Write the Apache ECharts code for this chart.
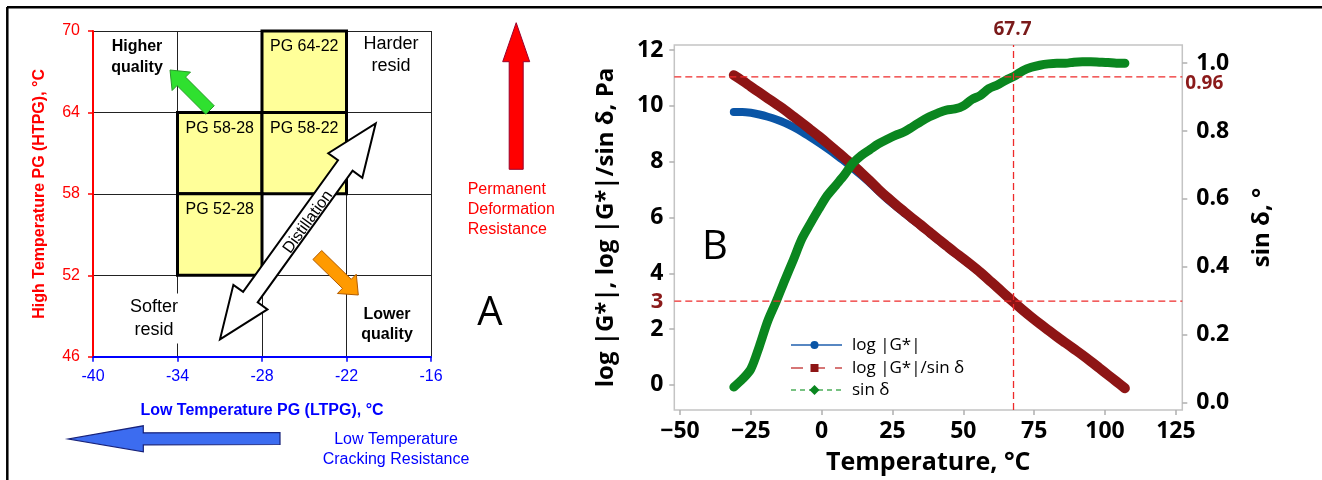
<!DOCTYPE html>
<html>
<head>
<meta charset="utf-8">
<script src="https://cdn.jsdelivr.net/npm/echarts@6/dist/echarts.min.js"></script>
<style>
html,body{margin:0;padding:0;background:#fff;}
#chart{width:1322px;height:480px;}
</style>
</head>
<body>
<div id="chart"></div>
<script>
// ---------- Panel A data ----------
const ltpgTicks = [-40, -34, -28, -22, -16];
const htpgTicks = [46, 52, 58, 64, 70];
const gradeNames = ['PG 64-22', 'PG 58-28', 'PG 58-22', 'PG 52-28'];
const gradeLtpgFrom = [-28, -34, -28, -34];
const gradeLtpgTo = [-22, -28, -22, -28];
const gradeHtpgFrom = [64, 58, 58, 52];
const gradeHtpgTo = [70, 64, 64, 58];

// ---------- Panel B data ----------
const temps = [-31,-28,-25,-22,-19,-16,-13,-10,-7,-4,-1,2,5,8,11,14,17,20,23,26,29,32,35,38,41,44,47,50,53,56,59,62,65,68,71,74,77,80,83,86,89,92,95,98,101,104,107];
const logG = [9.78,9.78,9.75,9.69,9.61,9.51,9.39,9.24,9.07,8.88,8.68,8.47,8.25,8.02,7.77,7.51,7.24,6.95,6.67,6.42,6.17,5.93,5.70,5.45,5.20,4.96,4.72,4.49,4.25,4.01,3.74,3.48,3.20,2.93,2.67,2.42,2.18,1.95,1.72,1.50,1.28,1.06,0.83,0.59,0.35,0.11,-0.12];
const logGSin = [11.10,10.90,10.69,10.48,10.27,10.06,9.85,9.62,9.39,9.15,8.91,8.66,8.40,8.14,7.88,7.60,7.31,7.01,6.73,6.47,6.22,5.97,5.73,5.48,5.23,4.99,4.75,4.52,4.28,4.03,3.76,3.49,3.21,2.94,2.68,2.43,2.19,1.96,1.73,1.51,1.29,1.07,0.84,0.60,0.36,0.12,-0.12];
const sinDelta = [0.045,0.068,0.098,0.165,0.24,0.298,0.36,0.42,0.482,0.527,0.57,0.61,0.64,0.67,0.705,0.728,0.745,0.762,0.775,0.787,0.797,0.812,0.828,0.842,0.853,0.862,0.865,0.874,0.893,0.905,0.925,0.936,0.950,0.962,0.978,0.988,0.994,0.998,1.0,1.0,1.003,1.004,1.004,1.003,1.002,1.0,1.0];
const tempTicks = [-50, -25, 0, 25, 50, 75, 100, 125];
const logTicks = [0, 2, 4, 6, 8, 10, 12];
const sinTicks = [0, 0.2, 0.4, 0.6, 0.8, 1.0];
const critTemp = 67.7;
const critLog = 3;
const critSin = 0.96;

// axis extents of panel B frame
const tMin = -52.0, tMax = 127.26;
const logMin = -0.9, logMax = 12.18;
const sinMin = -0.0226, sinMax = 1.0537;

const FA = 'Liberation Sans, Arial, sans-serif';
const FB = 'Open Sans, Noto Sans, sans-serif';

function pairs(xs, ys) { return xs.map((x, i) => [x, ys[i]]); }

function arrow(tail, tip, sw, hw, hl) {
  const dx = tip[0] - tail[0], dy = tip[1] - tail[1];
  const L = Math.hypot(dx, dy), ux = dx / L, uy = dy / L, nx = -uy, ny = ux;
  const bx = tip[0] - ux * hl, by = tip[1] - uy * hl;
  return [
    [tail[0] + nx * sw / 2, tail[1] + ny * sw / 2],
    [bx + nx * sw / 2, by + ny * sw / 2],
    [bx + nx * hw / 2, by + ny * hw / 2],
    [tip[0], tip[1]],
    [bx - nx * hw / 2, by - ny * hw / 2],
    [bx - nx * sw / 2, by - ny * sw / 2],
    [tail[0] - nx * sw / 2, tail[1] - ny * sw / 2]
  ];
}
function dblArrow(a, b, sw, hw, hl) {
  const dx = b[0] - a[0], dy = b[1] - a[1];
  const L = Math.hypot(dx, dy), ux = dx / L, uy = dy / L, nx = -uy, ny = ux;
  const ax = a[0] + ux * hl, ay = a[1] + uy * hl;
  const bx = b[0] - ux * hl, by = b[1] - uy * hl;
  return [
    a,
    [ax + nx * hw / 2, ay + ny * hw / 2],
    [ax + nx * sw / 2, ay + ny * sw / 2],
    [bx + nx * sw / 2, by + ny * sw / 2],
    [bx + nx * hw / 2, by + ny * hw / 2],
    b,
    [bx - nx * hw / 2, by - ny * hw / 2],
    [bx - nx * sw / 2, by - ny * sw / 2],
    [ax - nx * sw / 2, ay - ny * sw / 2],
    [ax - nx * hw / 2, ay - ny * hw / 2]
  ];
}

const chart = echarts.init(document.getElementById('chart'), null, {renderer: 'canvas'});

const boxData = gradeNames.map((n, i) => [gradeLtpgFrom[i], gradeLtpgTo[i], gradeHtpgFrom[i], gradeHtpgTo[i]]);

const legendY = [345, 368, 390];
const refStyle = {color: '#ee2a2a', type: [7, 4], width: 1.3};

const baseGraphic = [
  // outer frame lines
  {id: 'bt', type: 'line', z: 100, shape: {x1: 7, y1: 7.3, x2: 1322, y2: 7.3}, style: {stroke: '#000', lineWidth: 2.5}},
  {id: 'bl', type: 'line', z: 100, shape: {x1: 7.3, y1: 7, x2: 7.3, y2: 480}, style: {stroke: '#000', lineWidth: 2.5}},

  // Panel A texts
  {id: 't1', type: 'text', z: 100, x: 137, y: 57, style: {text: 'Higher\nquality', font: 'bold 16px ' + FA, fill: '#000', align: 'center', verticalAlign: 'middle', lineHeight: 21}},
  {id: 't2', type: 'text', z: 100, x: 391, y: 55, style: {text: 'Harder\nresid', font: '18px ' + FA, fill: '#000', align: 'center', verticalAlign: 'middle', lineHeight: 22}},
  {id: 't3', type: 'text', z: 100, x: 154, y: 318.5, style: {text: 'Softer\nresid', font: '18px ' + FA, fill: '#000', align: 'center', verticalAlign: 'middle', lineHeight: 23, backgroundColor: '#fff', padding: [2, 1, 2, 1]}},
  {id: 't4', type: 'text', z: 100, x: 387, y: 325, style: {text: 'Lower\nquality', font: 'bold 16px ' + FA, fill: '#000', align: 'center', verticalAlign: 'middle', lineHeight: 20}},

  // Panel A arrows
  {id: 'a1', type: 'polygon', z: 101, shape: {points: arrow([210, 110], [170, 70], 12, 26, 16)}, style: {fill: '#2fe02f', stroke: '#2a9a2a', lineWidth: 1}},
  {id: 'a2', type: 'polygon', z: 101, shape: {points: arrow([317.3, 255], [358.3, 295], 12.6, 27, 16)}, style: {fill: '#ff9a00', stroke: '#b35c00', lineWidth: 1}},
  {id: 'a3', type: 'polygon', z: 101, shape: {points: dblArrow([220, 339.3], [375.7, 123.3], 18, 42, 52)}, style: {fill: '#fff', stroke: '#000', lineWidth: 2}},
  {id: 't5', type: 'text', z: 102, x: 308, y: 222, rotation: 54.2 * Math.PI / 180, style: {text: 'Distillation', font: '16px ' + FA, fill: '#000', align: 'center', verticalAlign: 'middle'}},

  // Outside arrows and notes
  {id: 'a4', type: 'polygon', z: 101, shape: {points: arrow([516.2, 169.3], [516.2, 22.7], 14, 27, 39)}, style: {fill: '#ff0000', stroke: '#99002b', lineWidth: 1}},
  {id: 't6', type: 'text', z: 100, x: 467.7, y: 209.5, style: {text: 'Permanent\nDeformation\nResistance', font: '16px ' + FA, fill: '#ff0000', align: 'left', verticalAlign: 'middle', lineHeight: 20}},
  {id: 'a5', type: 'polygon', z: 101, shape: {points: arrow([280, 438.5], [68.3, 439], 12, 26, 75)}, style: {fill: '#3c6cf0', stroke: '#17227a', lineWidth: 1.2}},
  {id: 't7', type: 'text', z: 100, x: 396, y: 450, style: {text: 'Low Temperature\nCracking Resistance', font: '16px ' + FA, fill: '#0000ff', align: 'center', verticalAlign: 'middle', lineHeight: 20}},
  {id: 't8', type: 'text', z: 100, x: 490, y: 314, style: {text: 'A', font: '40px ' + FB, fill: '#000', align: 'center', verticalAlign: 'middle'}},

  // Panel B letter
  {id: 't9', type: 'text', z: 100, x: 715, y: 248, style: {text: 'B', font: '40px ' + FB, fill: '#000', align: 'center', verticalAlign: 'middle'}},

  // Panel B legend
  {id: 'l1', type: 'line', z: 100, shape: {x1: 791, y1: legendY[0], x2: 842, y2: legendY[0]}, style: {stroke: '#1f5fae', lineWidth: 1.3}},
  {id: 'l2', type: 'circle', z: 101, shape: {cx: 814.5, cy: legendY[0], r: 4}, style: {fill: '#0a55a6'}},
  {id: 'l3', type: 'text', z: 100, x: 852, y: legendY[0], style: {text: 'log |G*|', font: '17px ' + FB, fill: '#000', align: 'left', verticalAlign: 'middle'}},
  {id: 'l4', type: 'line', z: 100, shape: {x1: 791, y1: legendY[1], x2: 842, y2: legendY[1]}, style: {stroke: '#c94a4a', lineWidth: 1.3, lineDash: [12, 10]}},
  {id: 'l5', type: 'rect', z: 101, shape: {x: 810.5, y: legendY[1] - 4, width: 8, height: 8}, style: {fill: '#8e1515'}},
  {id: 'l6', type: 'text', z: 100, x: 852, y: legendY[1], style: {text: 'log |G*|/sin \u03b4', font: '17px ' + FB, fill: '#000', align: 'left', verticalAlign: 'middle'}},
  {id: 'l7', type: 'line', z: 100, shape: {x1: 791, y1: legendY[2], x2: 842, y2: legendY[2]}, style: {stroke: '#4cae5a', lineWidth: 1.3, lineDash: [5, 4]}},
  {id: 'l8', type: 'polygon', z: 101, shape: {points: [[814.5, legendY[2] - 5], [819.5, legendY[2]], [814.5, legendY[2] + 5], [809.5, legendY[2]]]}, style: {fill: '#0a861f'}},
  {id: 'l9', type: 'text', z: 100, x: 852, y: legendY[2], style: {text: 'sin \u03b4', font: '17px ' + FB, fill: '#000', align: 'left', verticalAlign: 'middle'}}
];

const option = {
  backgroundColor: '#fff',
  animation: false,
  grid: [
    {left: 93, top: 31, width: 338, height: 325.7, show: false},
    {left: 674.3, top: 45, right: 139.7, bottom: 68, show: true, borderColor: '#c4c4c4', borderWidth: 1.5, backgroundColor: 'transparent'}
  ],
  xAxis: [
    {
      gridIndex: 0, type: 'value', min: -40, max: -16, interval: 6,
      axisLine: {show: true, onZero: false, lineStyle: {color: '#0000ff', width: 2}},
      axisTick: {show: true, length: 5, lineStyle: {color: '#0000ff', width: 1.5}},
      axisLabel: {color: '#0000ff', fontFamily: FA, fontSize: 16, margin: 12},
      splitLine: {show: true, lineStyle: {color: '#222', width: 1}},
      name: 'Low Temperature PG (LTPG), °C', nameLocation: 'middle', nameGap: 46,
      nameTextStyle: {color: '#0000ff', fontFamily: FA, fontSize: 16, fontWeight: 'bold'}
    },
    {
      gridIndex: 1, type: 'value', min: tMin, max: tMax,
      axisLine: {show: false, onZero: false},
      axisTick: {show: true, length: 5, customValues: tempTicks, lineStyle: {color: '#b0b0b0', width: 1.5}},
      axisLabel: {customValues: tempTicks, color: '#000', fontFamily: FB, fontWeight: 'bold', fontSize: 23, margin: 10,
        formatter: v => (v < 0 ? '\u2212' + Math.abs(v) : String(v))},
      splitLine: {show: false},
      name: 'Temperature, °C', nameLocation: 'middle', nameGap: 40,
      nameTextStyle: {color: '#000', fontFamily: FB, fontSize: 25, fontWeight: 'bold'}
    }
  ],
  yAxis: [
    {
      gridIndex: 0, type: 'value', min: 46, max: 70, interval: 6,
      axisLine: {show: true, onZero: false, lineStyle: {color: '#ff0000', width: 2}},
      axisTick: {show: true, length: 5, lineStyle: {color: '#ff0000', width: 1.5}},
      axisLabel: {color: '#ff0000', fontFamily: FA, fontSize: 16, margin: 13},
      splitLine: {show: true, lineStyle: {color: '#222', width: 1}},
      name: 'High Temperature PG (HTPG), °C', nameLocation: 'middle', nameGap: 45, nameRotate: 90,
      nameTextStyle: {color: '#ff0000', fontFamily: FA, fontSize: 16, fontWeight: 'bold'}
    },
    {
      gridIndex: 1, type: 'value', min: logMin, max: logMax,
      axisLine: {show: false, onZero: false},
      axisTick: {show: true, length: 5, customValues: logTicks, lineStyle: {color: '#b0b0b0', width: 1.5}},
      axisLabel: {customValues: logTicks, color: '#000', fontFamily: FB, fontWeight: 'bold', fontSize: 23, margin: 11, padding: [7, 0, 0, 0]},
      splitLine: {show: false},
      name: 'log |G*|, log |G*|/sin \u03b4, Pa', nameLocation: 'middle', nameGap: 56, nameRotate: 90,
      nameTextStyle: {color: '#000', fontFamily: FB, fontSize: 24, fontWeight: 'bold'}
    },
    {
      gridIndex: 1, type: 'value', position: 'right', min: sinMin, max: sinMax,
      axisLine: {show: false, onZero: false},
      axisTick: {show: true, length: 5, customValues: sinTicks, lineStyle: {color: '#b0b0b0', width: 1.5}},
      axisLabel: {customValues: sinTicks, color: '#000', fontFamily: FB, fontWeight: 'bold', fontSize: 23, margin: 14, padding: [7, 0, 0, 0],
        formatter: v => v.toFixed(1)},
      splitLine: {show: false},
      name: 'sin \u03b4, °', nameLocation: 'middle', nameGap: 68, nameRotate: 90,
      nameTextStyle: {color: '#000', fontFamily: FB, fontSize: 24, fontWeight: 'bold'}
    }
  ],
  series: [
    {
      type: 'custom', xAxisIndex: 0, yAxisIndex: 0, z: 3,
      data: boxData,
      encode: {x: [0, 1], y: [2, 3]},
      renderItem: function (params, api) {
        const p0 = api.coord([api.value(0), api.value(3)]);
        const p1 = api.coord([api.value(1), api.value(2)]);
        return {
          type: 'group',
          children: [
            {type: 'rect', shape: {x: p0[0], y: p0[1], width: p1[0] - p0[0], height: p1[1] - p0[1]},
              style: {fill: '#ffff99', stroke: '#000', lineWidth: 3}},
            {type: 'text', x: (p0[0] + p1[0]) / 2, y: p0[1] + 16,
              style: {text: gradeNames[params.dataIndex], font: '16px ' + FA, fill: '#000', align: 'center', verticalAlign: 'middle'}}
          ]
        };
      }
    },
    {
      name: 'log |G*|', type: 'line', xAxisIndex: 1, yAxisIndex: 1, z: 3,
      data: pairs(temps, logG), symbol: 'none', smooth: 0.3,
      lineStyle: {color: '#0a55a6', width: 8, cap: 'round', join: 'round'}
    },
    {
      name: 'log |G*|/sin \u03b4', type: 'line', xAxisIndex: 1, yAxisIndex: 1, z: 4,
      data: pairs(temps, logGSin), symbol: 'none', smooth: 0.3,
      lineStyle: {color: '#8e1515', width: 10, cap: 'round', join: 'round'}
    },
    {
      name: 'sin \u03b4', type: 'line', xAxisIndex: 1, yAxisIndex: 2, z: 5,
      data: pairs(temps, sinDelta), symbol: 'none', smooth: 0.3,
      lineStyle: {color: '#0a861f', width: 9, cap: 'round', join: 'round'}
    },
    // reference lines
    {type: 'line', xAxisIndex: 1, yAxisIndex: 1, z: 6, silent: true, symbol: 'none', color: '#ee2a2a',
      data: [[tMin, critLog], [tMax, critLog]], lineStyle: refStyle},
    {type: 'line', xAxisIndex: 1, yAxisIndex: 1, z: 6, silent: true, symbol: 'none', color: '#ee2a2a',
      data: [[critTemp, logMin], [critTemp, logMax]], lineStyle: refStyle},
    {type: 'line', xAxisIndex: 1, yAxisIndex: 2, z: 6, silent: true, symbol: 'none', color: '#ee2a2a',
      data: [[tMin, critSin], [tMax, critSin]], lineStyle: refStyle}
  ],
  graphic: baseGraphic
};

chart.setOption(option);

// labels of reference values, anchored through the axes
const pLog = chart.convertToPixel({xAxisIndex: 1, yAxisIndex: 1}, [tMin, critLog]);
const pTemp = chart.convertToPixel({xAxisIndex: 1, yAxisIndex: 1}, [critTemp, logMax]);
const pSin = chart.convertToPixel({xAxisIndex: 1, yAxisIndex: 2}, [tMax, critSin]);
chart.setOption({
  graphic: baseGraphic.concat([
    {id: 'r1', type: 'text', z: 100, x: pLog[0] - 11, y: pLog[1] + 1, style: {text: String(critLog), font: 'bold 22px ' + FB, fill: '#8b1a1a', align: 'right', verticalAlign: 'middle'}},
    {id: 'r2', type: 'text', z: 100, x: pTemp[0] - 1, y: pTemp[1] - 15, style: {text: String(critTemp), font: 'bold 19px ' + FB, fill: '#7a1a1a', align: 'center', verticalAlign: 'middle'}},
    {id: 'r3', type: 'text', z: 100, x: pSin[0] + 3, y: pSin[1] + 7, style: {text: critSin.toFixed(2), font: 'bold 19px ' + FB, fill: '#8b1a1a', align: 'left', verticalAlign: 'middle'}}
  ])
});
</script>
</body>
</html>
